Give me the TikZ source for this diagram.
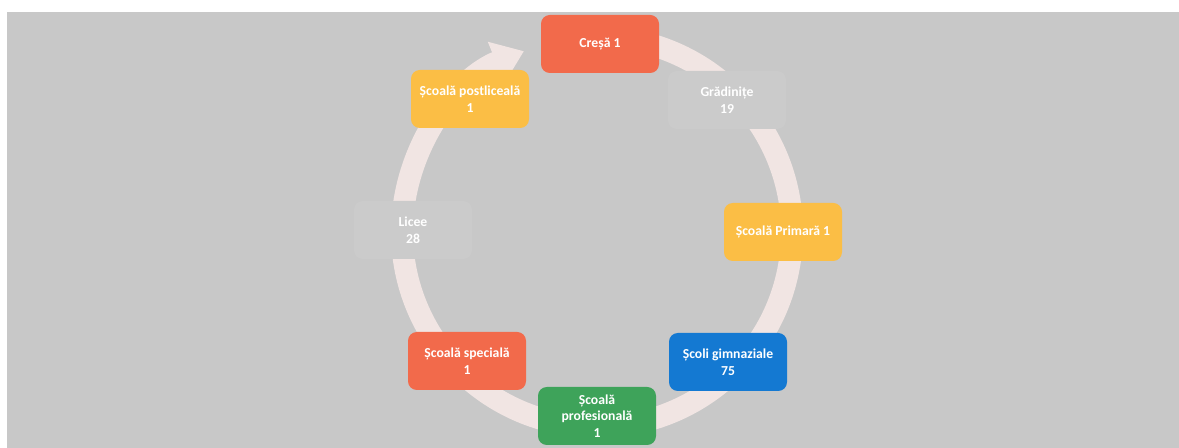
\documentclass[tikz,border=0pt]{standalone}
\usepackage{fontspec}
\setmainfont{Carlito}
\usetikzlibrary{arrows.meta}

\definecolor{bggray}{HTML}{C8C8C8}
\definecolor{ringpink}{HTML}{F1E5E3}
\definecolor{coral}{HTML}{F26A4B}
\definecolor{gold}{HTML}{FBBE45}
\definecolor{azure}{HTML}{1479D2}
\definecolor{leaf}{HTML}{3EA35A}
\definecolor{boxgray}{HTML}{CBCBCB}

\begin{document}
\begin{tikzpicture}[stage/.style = {rounded corners=5pt, minimum width=2.36cm, minimum height=1.16cm,
                      align=center, text=white, font=\fontsize{7.8}{9.5}\selectfont\bfseries, inner sep=2pt},
                    ring/.style = {ringpink, line width=0.44cm,
                      -{Triangle[width=0.85cm, length=0.6cm]}}]
                    \useasboundingbox (0,0) rectangle (23.58,8.96);
                    \fill[white] (0,0) rectangle (23.58,8.96);
                    \fill[bggray] (0.14,0) rectangle (23.58,8.72);

                    % the cycle
                    \draw[ring] (11.94,4.32) ++(84:3.9) arc[start angle=84, end angle=-248, radius=3.9];

                    \node [stage, fill=coral] (cresa) at (12.0, 8.08) {Creșă 1};
                    \node [stage, fill=boxgray] (gradinite) at (14.54, 6.96) {Grădinițe\\19};
                    \node [stage, fill=gold] (primara) at (15.66, 4.32) {Școală Primară 1};
                    \node [stage, fill=azure] (gimnaziale) at (14.56, 1.72) {Școli gimnaziale\\75};
                    \node [stage, fill=leaf] (profesionala) at (11.94, 0.64) {Școală\\profesională\\1};
                    \node [stage, fill=coral] (speciala) at (9.34, 1.74) {Școală specială\\1};
                    \node [stage, fill=boxgray] (licee) at (8.26, 4.36) {Licee\\28};
                    \node [stage, fill=gold] (postliceala) at (9.4, 6.98) {Școală postliceală\\1};
\end{tikzpicture}
\end{document}
